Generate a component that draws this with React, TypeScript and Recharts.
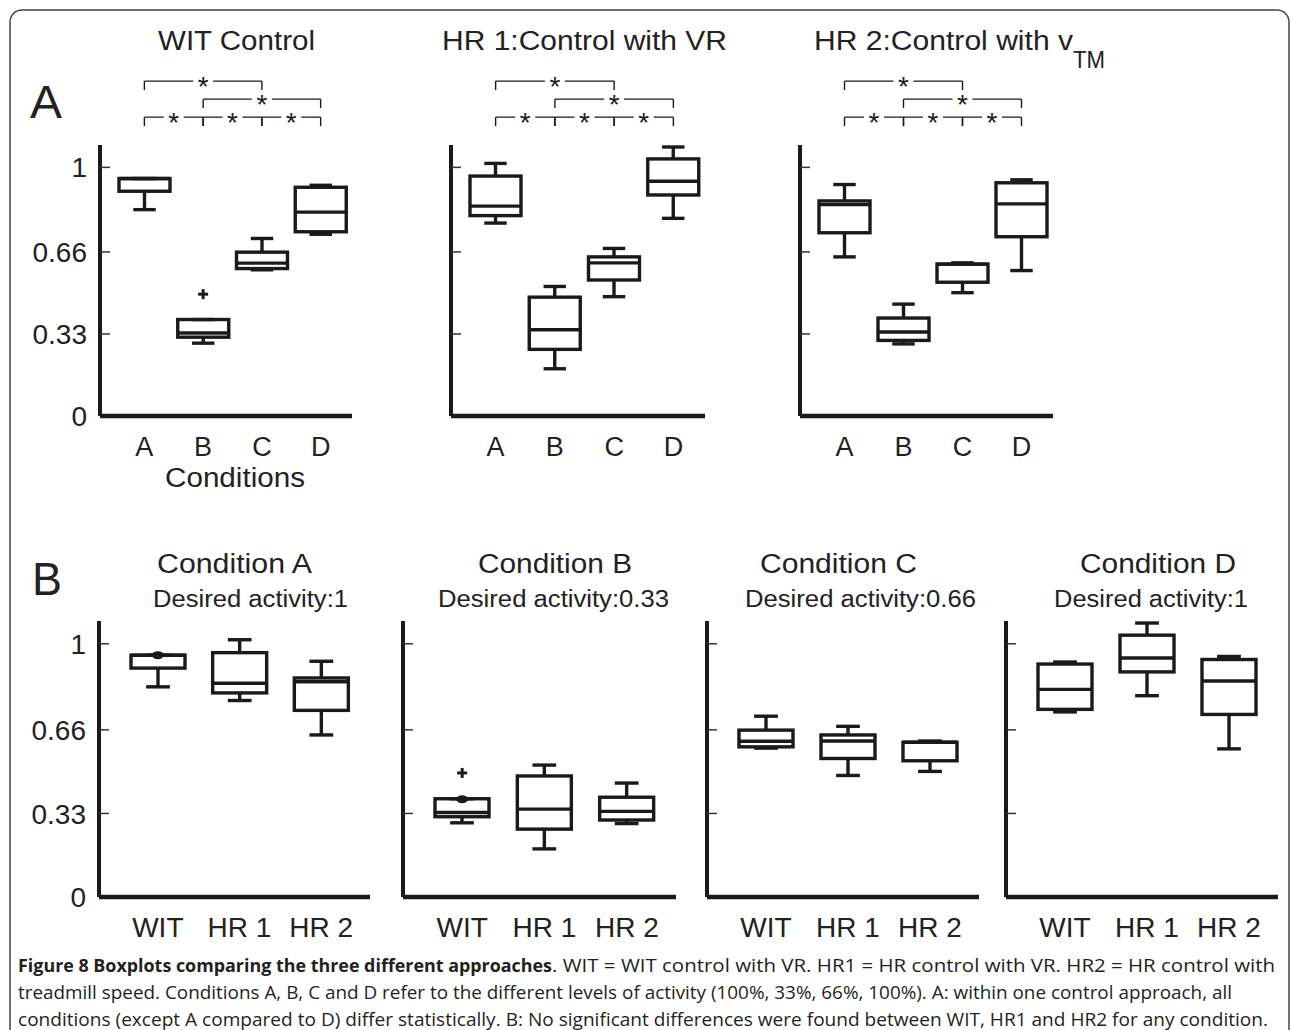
import React from 'react';
import { ComposedChart, Bar, Scatter, XAxis, YAxis, ReferenceLine } from 'recharts';

const conditions = ['A', 'B', 'C', 'D'];
const approaches = ['WIT', 'HR 1', 'HR 2'];

// box stats per condition A-D: [lower whisker, q1, median, q3, upper whisker]
const witStats = [
  [0.83, 0.904, 0.955, 0.955, 0.955],
  [0.293, 0.317, 0.334, 0.388, 0.388],
  [0.588, 0.593, 0.615, 0.659, 0.714],
  [0.731, 0.741, 0.82, 0.92, 0.928],
];
const hr1Stats = [
  [0.776, 0.806, 0.844, 0.965, 1.016],
  [0.19, 0.268, 0.347, 0.478, 0.521],
  [0.48, 0.547, 0.616, 0.64, 0.674],
  [0.795, 0.889, 0.944, 1.034, 1.082],
];
const hr2Stats = [
  [0.64, 0.737, 0.85, 0.865, 0.931],
  [0.29, 0.304, 0.338, 0.394, 0.45],
  [0.496, 0.538, 0.611, 0.611, 0.616],
  [0.585, 0.721, 0.853, 0.938, 0.95],
];
const witOutliers = [null, 0.49, null, null];
const hr1Outliers = [null, null, null, null];
const hr2Outliers = [null, null, null, null];
// filled dots drawn on the WIT boxes in part B
const witMarks = [0.955, 0.386, null, null];

const yTicks = [0, 0.33, 0.66, 1];
const yTickLabels = ['0', '0.33', '0.66', '1'];

const panelTitles = ['WIT Control', 'HR 1:Control with VR', 'HR 2:Control with v'];
const conditionTitles = ['Condition A', 'Condition B', 'Condition C', 'Condition D'];
const desiredActivity = ['1', '0.33', '0.66', '1'];

// significant pairs within one control approach, and the bracket row each sits on
const sigPairs = [['A', 'C'], ['B', 'D'], ['A', 'B'], ['B', 'C'], ['C', 'D']];
const sigRows = [0, 1, 2, 2, 2];

const FONT = 'Liberation Sans, Arial, Helvetica, sans-serif';
const INK = '#1a1a1a';

const allStats = [witStats, hr1Stats, hr2Stats];
const allOutliers = [witOutliers, hr1Outliers, hr2Outliers];

const makeRow = (name: string, s: number[], outlier: number | null, mark: number | null) => ({
  name,
  min: s[0],
  q1: s[1],
  med: s[2],
  q3: s[3],
  max: s[4],
  range: [s[0], s[4]],
  outlier,
  mark,
});

const approachRows = allStats.map((stats, j) =>
  conditions.map((c, i) => makeRow(c, stats[i], allOutliers[j][i], null))
);
const conditionRows = conditions.map((_, i) =>
  approaches.map((a, j) => makeRow(a, allStats[j][i], allOutliers[j][i], j === 0 ? witMarks[i] : null))
);

// box drawn from the whisker-range bar, so every y comes from the bar's own scale
const BoxShape = (props: any) => {
  const { x, y, width, height, payload } = props;
  const top = Math.min(y, y + height);
  const h = Math.abs(height);
  const k = h / (payload.max - payload.min);
  const py = (v: number) => top + (payload.max - v) * k;
  const cx = x + width / 2;
  const cap = width * 0.22;
  return (
    <g stroke={INK} strokeWidth={3.4} fill="none">
      <line x1={cx} x2={cx} y1={py(payload.max)} y2={py(payload.q3)} />
      <line x1={cx - cap} x2={cx + cap} y1={py(payload.max)} y2={py(payload.max)} />
      <line x1={cx} x2={cx} y1={py(payload.q1)} y2={py(payload.min)} />
      <line x1={cx - cap} x2={cx + cap} y1={py(payload.min)} y2={py(payload.min)} />
      <rect x={x} y={py(payload.q3)} width={width} height={Math.max(py(payload.q1) - py(payload.q3), 1)} />
      <line x1={x} x2={x + width} y1={py(payload.med)} y2={py(payload.med)} />
    </g>
  );
};

const PlusShape = (props: any) => {
  const { cx, cy, payload } = props;
  if (!payload || payload.outlier == null) return <g />;
  return (
    <g stroke={INK} strokeWidth={3}>
      <line x1={cx - 5} x2={cx + 5} y1={cy} y2={cy} />
      <line x1={cx} x2={cx} y1={cy - 5} y2={cy + 5} />
    </g>
  );
};

const DotShape = (props: any) => {
  const { cx, cy, payload } = props;
  if (!payload || payload.mark == null) return <g />;
  return <ellipse cx={cx} cy={cy} rx={6} ry={4} fill={INK} />;
};

const StarLabel = (props: any) => {
  const vb = props.viewBox || {};
  const cx = (vb.x || 0) + (vb.width || 0) / 2;
  const cy = (vb.y || 0) + (vb.height || 0) / 2;
  return (
    <g>
      <rect x={cx - 10} y={cy - 3} width={20} height={6} fill="#fff" />
      <text x={cx} y={cy + 15} textAnchor="middle" fontSize={28} fill={INK} fontFamily={FONT}>
        *
      </text>
    </g>
  );
};

const TICK_GAP = 13;

const YTick = (props: any) => {
  const { x, y, payload, showLabel } = props;
  const idx = yTicks.indexOf(payload.value);
  return (
    <g>
      {payload.value > 0 && (
        <line x1={x + TICK_GAP} x2={x + TICK_GAP + 10} y1={y} y2={y} stroke="#333" strokeWidth={1.5} />
      )}
      {showLabel && (
        <text x={x} y={y} dy="0.36em" textAnchor="end" fontSize={28} fill="#222" fontFamily={FONT}>
          {yTickLabels[idx]}
        </text>
      )}
    </g>
  );
};

interface PanelProps {
  rows: any[];
  left: number;
  right: number;
  top: number;
  bottom: number;
  padL: number;
  padR: number;
  barSize: number;
  xFont: number;
  xMargin: number;
  showYLabels: boolean;
  brackets: boolean;
}

const W_Y = 90;
const M_TOP = 90;
const H_X = 50;
const M_R = 12;

const Panel = ({ rows, left, right, top, bottom, padL, padR, barSize, xFont, xMargin, showYLabels, brackets }: PanelProps) => {
  const width = W_Y + (right - left) + M_R;
  const height = M_TOP + (bottom - top) + H_X;

  const bracketLines: React.ReactNode[] = [];
  if (brackets) {
    sigPairs.forEach((p, i) => {
      const level = 1.347 - sigRows[i] * 0.0725;
      const drop = level - 0.036;
      const line = { stroke: INK, strokeWidth: 1.4, ifOverflow: 'visible' as const };
      bracketLines.push(
        <ReferenceLine key={`h${i}`} segment={[{ x: p[0], y: level }, { x: p[1], y: level }]} {...line} label={<StarLabel />} />,
        <ReferenceLine key={`l${i}`} segment={[{ x: p[0], y: level }, { x: p[0], y: drop }]} {...line} />,
        <ReferenceLine key={`r${i}`} segment={[{ x: p[1], y: level }, { x: p[1], y: drop }]} {...line} />
      );
    });
  }

  return (
    <div style={{ position: 'absolute', left: left - W_Y, top: top - M_TOP, width, height }}>
      <ComposedChart width={width} height={height} data={rows} margin={{ top: M_TOP, right: M_R, bottom: 0, left: 0 }}>
        <XAxis
          dataKey="name"
          type="category"
          height={H_X}
          interval={0}
          padding={{ left: padL, right: padR }}
          tickLine={false}
          tickSize={0}
          tickMargin={xMargin}
          axisLine={{ stroke: INK, strokeWidth: 4.5 }}
          tick={{ fill: '#222', fontSize: xFont, fontFamily: FONT }}
        />
        <YAxis
          type="number"
          domain={[0, 1.09]}
          ticks={yTicks}
          allowDataOverflow
          width={W_Y}
          tickLine={false}
          tickSize={0}
          tickMargin={TICK_GAP}
          axisLine={{ stroke: INK, strokeWidth: 4 }}
          tick={(p: any) => <YTick {...p} showLabel={showYLabels} />}
        />
        <Bar dataKey="range" barSize={barSize} shape={BoxShape} isAnimationActive={false} />
        <Scatter dataKey="outlier" shape={PlusShape} isAnimationActive={false} />
        <Scatter dataKey="mark" shape={DotShape} isAnimationActive={false} />
        {bracketLines}
      </ComposedChart>
    </div>
  );
};

const topAxes = [
  { left: 100, right: 352 },
  { left: 451, right: 705 },
  { left: 800, right: 1053 },
];
const bottomAxes = [
  { left: 99, right: 370 },
  { left: 403, right: 676 },
  { left: 707, right: 979 },
  { left: 1006, right: 1278 },
];
const topTitlePos = [
  { x: 158, w: 157 },
  { x: 442, w: 285 },
  { x: 814, w: 259 },
];
const condTitlePos = [
  { x: 157, w: 155, sx: 153, sw: 195 },
  { x: 478, w: 154, sx: 438, sw: 231 },
  { x: 760, w: 157, sx: 745, sw: 231 },
  { x: 1080, w: 156, sx: 1054, sw: 194 },
];

const App = () => {
  const txt = { fontFamily: FONT, fill: '#222' };
  const cap = { fontFamily: 'Open Sans, Liberation Sans, sans-serif', fontSize: 18, fill: '#231f20' };
  return (
    <div style={{ position: 'absolute', left: 0, top: 0, width: 1290, height: 1030, background: '#fff', overflow: 'hidden' }}>
      <svg width={1290} height={1030} style={{ position: 'absolute', left: 0, top: 0 }}>
        <rect x={10} y={10} width={1279} height={1100} rx={12} fill="none" stroke="#444" strokeWidth={1.5} />
        {panelTitles.map((t, i) => (
          <text key={t} x={topTitlePos[i].x} y={50} fontSize={27} textLength={topTitlePos[i].w} lengthAdjust="spacingAndGlyphs" {...txt}>
            {t}
          </text>
        ))}
        <text x={1073} y={68} fontSize={24} textLength={32} lengthAdjust="spacingAndGlyphs" {...txt}>TM</text>
        <text x={30} y={118} fontSize={46} textLength={32} lengthAdjust="spacingAndGlyphs" {...txt}>A</text>
        <text x={165} y={487} fontSize={27} textLength={140} lengthAdjust="spacingAndGlyphs" {...txt}>Conditions</text>
        <text x={32} y={595} fontSize={46} textLength={30} lengthAdjust="spacingAndGlyphs" {...txt}>B</text>
        {conditionTitles.map((t, i) => (
          <g key={t}>
            <text x={condTitlePos[i].x} y={573} fontSize={27} textLength={condTitlePos[i].w} lengthAdjust="spacingAndGlyphs" {...txt}>
              {t}
            </text>
            <text x={condTitlePos[i].sx} y={607} fontSize={23} textLength={condTitlePos[i].sw} lengthAdjust="spacingAndGlyphs" {...txt}>
              {`Desired activity:${desiredActivity[i]}`}
            </text>
          </g>
        ))}
        <text x={18} y={972} fontWeight={700} textLength={534} lengthAdjust="spacingAndGlyphs" {...cap}>
          Figure 8 Boxplots comparing the three different approaches
        </text>
        <text x={552} y={972} textLength={723} lengthAdjust="spacingAndGlyphs" {...cap}>
          . WIT = WIT control with VR. HR1 = HR control with VR. HR2 = HR control with
        </text>
        <text x={18} y={999} textLength={1214} lengthAdjust="spacingAndGlyphs" {...cap}>
          treadmill speed. Conditions A, B, C and D refer to the different levels of activity (100%, 33%, 66%, 100%). A: within one control approach, all
        </text>
        <text x={18} y={1026} textLength={1250} lengthAdjust="spacingAndGlyphs" {...cap}>
          conditions (except A compared to D) differ statistically. B: No significant differences were found between WIT, HR1 and HR2 for any condition.
        </text>
      </svg>

      {approachRows.map((rows, i) => (
        <Panel
          key={`top${i}`}
          rows={rows}
          left={topAxes[i].left}
          right={topAxes[i].right}
          top={145}
          bottom={416}
          padL={15}
          padR={2}
          barSize={51}
          xFont={27}
          xMargin={21}
          showYLabels={i === 0}
          brackets
        />
      ))}
      {conditionRows.map((rows, i) => (
        <Panel
          key={`bottom${i}`}
          rows={rows}
          left={bottomAxes[i].left}
          right={bottomAxes[i].right}
          top={621}
          bottom={897}
          padL={18}
          padR={8}
          barSize={54}
          xFont={28}
          xMargin={20}
          showYLabels={i === 0}
          brackets={false}
        />
      ))}
    </div>
  );
};

export default App;
